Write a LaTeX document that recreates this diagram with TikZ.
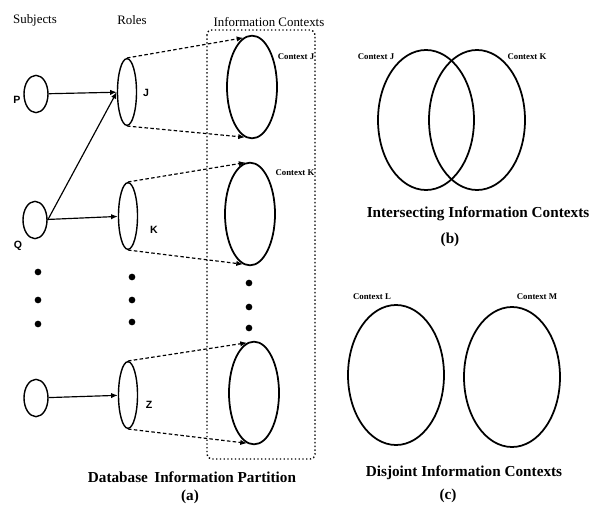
\documentclass[tikz,border=0pt]{standalone}
\usepackage{fontspec}
\setmainfont{Liberation Serif}
\setsansfont{Liberation Sans}
\usepackage{tikz}
\usetikzlibrary{shapes.geometric}
\usetikzlibrary{arrows.meta}
\tikzset{subject/.style={ellipse, draw, line width=1.2pt, inner sep=0, minimum width=0.72cm, minimum height=1.12cm}}
\tikzset{role/.style={ellipse, draw, line width=1.2pt, inner sep=0, minimum width=0.57cm, minimum height=2cm}}
\tikzset{context/.style={ellipse, draw, line width=1.5pt, inner sep=0, minimum width=1.5cm, minimum height=3.08cm}}
\tikzset{big context/.style={ellipse, draw, line width=1.5pt, inner sep=0, minimum width=2.88cm, minimum height=4.2cm}}
\tikzset{dot/.style={circle, fill, inner sep=0, minimum size=0.2cm}}
\tikzset{head/.style={font=\fontsize{11}{13}\selectfont}}
\tikzset{caption/.style={font=\fontsize{13}{15}\selectfont\bfseries}}
\tikzset{tag/.style={font=\sffamily\bfseries\fontsize{9}{10}\selectfont}}
\tikzset{ctx label/.style={font=\bfseries\fontsize{7.5}{9}\selectfont}}
\tikzset{every edge/.style={draw, line width=1pt}}
\tikzset{dashes/.style={dash pattern=on 3pt off 2pt}}

\begin{document}
\begin{tikzpicture}[x=0.03cm, y=-0.03cm, >={Latex[length=2mm, width=1.6mm]}]
  \useasboundingbox (0,0) rectangle (592,506);

  % (a) column titles
  \node[head] at (35, 20) (tSubj) {Subjects};
  \node[head] at (132, 20) (tRole) {Roles};
  \node[head] at (269, 22) (tCtx) {Information Contexts};

  % subjects
  \node[subject] at (36, 94) (sP) {};
  \node[subject] at (35, 220) (sQ) {};
  \node[subject] at (36, 398) (sZ) {};
  \node[tag] at (17, 100) {P};
  \node[tag] at (18, 246) {Q};

  % roles
  \node[role] at (127, 92) (rJ) {};
  \node[role] at (128, 216) (rK) {};
  \node[role] at (128, 395) (rZ) {};
  \node[tag] at (146, 93) {J};
  \node[tag] at (154, 230) {K};
  \node[tag] at (149, 405) {Z};

  % contexts of the partition
  \draw[dotted, line width=1.2pt, rounded corners=4pt] (207, 30) rectangle (315, 459);
  \node[context] at (252, 87) (cJ) {};
  \node[context] at (250, 214) (cK) {};
  \node[context] at (254, 393) (cZ) {};
  \node[ctx label] at (296, 57) {Context J};
  \node[ctx label] at (295, 173) {Context K};

  % dots
  \node[dot] at (38, 272) (ds1) {};
  \node[dot] at (38, 300) (ds2) {};
  \node[dot] at (38, 324) (ds3) {};
  \node[dot] at (132, 277) (dr1) {};
  \node[dot] at (132, 300) (dr2) {};
  \node[dot] at (132, 322) (dr3) {};
  \node[dot] at (249, 283) (dc1) {};
  \node[dot] at (249, 307) (dc2) {};
  \node[dot] at (249, 328) (dc3) {};

    \draw (sP) edge[->] (rJ);
    \draw (sQ.east) edge[->] (rJ.west);
    \draw (sQ) edge[->] (rK);
    \draw (sZ) edge[->] (rZ);

    \draw (rJ.north) edge[->, dashes] (cJ.100);
    \draw (rJ.south) edge[->, dashes] (cJ.262);
    \draw (rK.north) edge[->, dashes] (cK.95);
    \draw (rK.south) edge[->, dashes] (cK.262);
    \draw (rZ.north) edge[->, dashes] (cZ.98);
    \draw (rZ.south) edge[->, dashes] (cZ.262);

  \node[caption] at (192, 477) (capA) {Database\, Information Partition};
  \node[caption] at (190, 497) {(a)};

  % (b) intersecting
  \node[big context] at (426, 120) (bJ) {};
  \node[big context] at (477, 120) (bK) {};
  \node[ctx label] at (376, 57) {Context J};
  \node[ctx label] at (527, 57) {Context K};
  \node[caption] at (478, 214) {Intersecting Information Contexts};
  \node[caption] at (450, 240) {(b)};

  % (c) disjoint
  \node[big context] at (396, 375) (cL) {};
  \node[big context] at (512, 377) (cM) {};
  \node[ctx label] at (372, 297) {Context L};
  \node[ctx label] at (537, 297) {Context M};
  \node[caption] at (464, 473) {Disjoint Information Contexts};
  \node[caption] at (448, 496) {(c)};
  \end{tikzpicture}
\end{document}
